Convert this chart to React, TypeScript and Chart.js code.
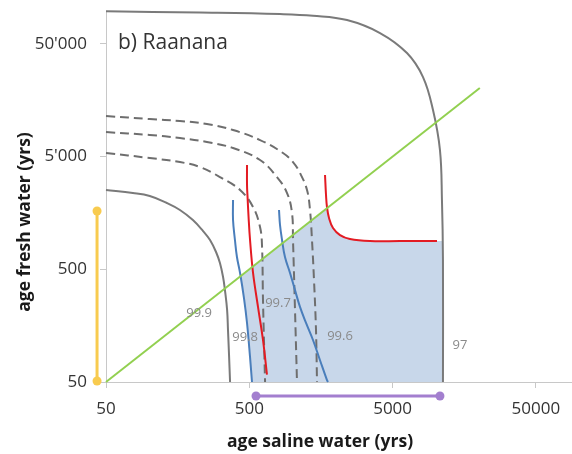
import React, { useEffect, useRef } from "react";
import { Chart, registerables } from "chart.js";

Chart.register(...registerables);

// Axis ticks (log–log, years)
const xTickValues = [50, 500, 5000, 50000];
const xTickLabels = ["50", "500", "5000", "50000"];
const yTickValues = [50, 500, 5000, 50000];
const yTickLabels = ["50", "500", "5'000", "50'000"];

// Outer solid contour (97)
const c97X = [50, 226, 819, 1391, 2404, 4084, 6300, 8150, 9570, 10700, 11050, 11230, 11230];
const c97Y = [97300, 94950, 92000, 88950, 81450, 62500, 41500, 25400, 12950, 5725, 2060, 605, 50];

// Inner solid contour (99.9)
const c999X = [50, 77, 101, 133, 164, 202, 238, 266, 293, 312, 328, 338, 350, 355, 361, 367];
const c999Y = [2530, 2377, 2235, 1937, 1680, 1368, 1093, 910, 712, 568, 427, 327, 218, 145, 87, 50];

// Dashed contours
const dashAX = [50, 101, 164, 253, 385, 594, 859, 1009, 1129, 1264, 1326, 1369, 1414, 1460, 1484];
const dashAY = [11460, 10780, 10350, 9730, 8610, 7015, 5385, 4475, 3575, 2530, 1680, 910, 402, 145, 50];
const dashBX = [50, 101, 164, 253, 385, 594, 780, 917, 993, 1009, 1042, 1076];
const dashBY = [8260, 7775, 7310, 6740, 5960, 4665, 3295, 2377, 1580, 910, 218, 50];
const dashCX = [50, 101, 164, 226, 312, 431, 531, 594, 613, 623, 644];
const dashCY = [5385, 4860, 4475, 4045, 3295, 2530, 1786, 1186, 822, 267, 50];

// Blue curves
const blue1X = [385, 385, 397, 410, 431, 459, 482, 506, 522];
const blue1Y = [2060, 1368, 910, 643, 464, 278, 167, 83, 50];
const blue2X = [806, 819, 846, 887, 962, 1042, 1129, 1244, 1391, 1557, 1742, 1771];
const blue2Y = [1680, 1236, 910, 643, 464, 327, 232, 167, 118, 78, 52, 50];

// Red curves
const red1X = [482, 482, 486, 494, 506, 531, 575, 623, 664];
const red1Y = [4210, 2800, 2208, 1465, 910, 464, 232, 118, 58];
const red2X = [1688, 1715, 1742, 1800, 1919, 2148, 2521, 3478, 5630, 10200];
const red2Y = [3435, 2280, 1786, 1426, 1162, 1007, 929, 891, 891, 891];

// 1:1 line
const equalX = [50, 20300];
const equalY = [50, 20300];

// Shaded feasible region
const shadeX = [522, 506, 482, 459, 434, 1748, 1800, 1919, 2148, 2521, 3478, 10200, 11230, 11230];
const shadeY = [50, 83, 167, 278, 434, 1748, 1426, 1162, 1007, 929, 891, 891, 891, 50];

// Ranges shown beside the axes
const freshRangeX = [43.3, 43.3];
const freshRangeY = [51, 1645];
const salineRangeX = [557, 10700];
const salineRangeY = [37.6, 37.6];

// Contour labels
const contourLabels = ["99.9", "99.8", "99.7", "99.6", "97"];
const contourLabelX = [223, 467, 793, 2148, 14760];
const contourLabelY = [205, 125, 251, 128, 106];

const FONT = "'Open Sans', 'DejaVu Sans', sans-serif";
const YELLOW = "#f8cb4f";
const PURPLE = "#a37fcf";

const pts = (xs: number[], ys: number[]) => xs.map((x, i) => ({ x, y: ys[i] }));

const shadePlugin = {
  id: "shadeRegion",
  beforeDatasetsDraw(chart: any) {
    const { ctx, chartArea, scales } = chart;
    ctx.save();
    ctx.beginPath();
    ctx.rect(chartArea.left, chartArea.top, chartArea.right - chartArea.left, chartArea.bottom - chartArea.top);
    ctx.clip();
    ctx.beginPath();
    shadeX.forEach((x, i) => {
      const px = scales.x.getPixelForValue(x);
      const py = scales.y.getPixelForValue(shadeY[i]);
      if (i === 0) ctx.moveTo(px, py);
      else ctx.lineTo(px, py);
    });
    ctx.closePath();
    ctx.fillStyle = "#c8d7ea";
    ctx.fill();
    ctx.restore();
  },
};

const textPlugin = {
  id: "textLabels",
  afterDatasetsDraw(chart: any) {
    const { ctx, chartArea, scales } = chart;
    ctx.save();
    // end dots of the two age ranges (they sit outside the plot area)
    const dot = (x: number, y: number, color: string) => {
      ctx.beginPath();
      ctx.arc(scales.x.getPixelForValue(x), scales.y.getPixelForValue(y), 4.5, 0, Math.PI * 2);
      ctx.fillStyle = color;
      ctx.fill();
    };
    freshRangeX.forEach((x, i) => dot(x, freshRangeY[i], YELLOW));
    salineRangeX.forEach((x, i) => dot(x, salineRangeY[i], PURPLE));

    // contour labels
    ctx.font = `13px ${FONT}`;
    ctx.fillStyle = "#8a8a8a";
    ctx.textAlign = "center";
    ctx.textBaseline = "middle";
    contourLabels.forEach((t, i) => {
      ctx.fillText(
        t,
        scales.x.getPixelForValue(contourLabelX[i]),
        scales.y.getPixelForValue(contourLabelY[i])
      );
    });
    // panel title
    ctx.font = `21px ${FONT}`;
    ctx.fillStyle = "#333333";
    ctx.textAlign = "left";
    ctx.fillText("b) Raanana", chartArea.left + 12, 43);
    // axis titles
    ctx.font = `bold 17.5px ${FONT}`;
    ctx.fillStyle = "#1a1a1a";
    ctx.textAlign = "center";
    ctx.fillText("age saline water (yrs)", 320, 442);
    ctx.translate(25, 222);
    ctx.rotate(-Math.PI / 2);
    ctx.fillText("age fresh water (yrs)", 0, 0);
    ctx.restore();
  },
};

export default function App() {
  const canvasRef = useRef<HTMLCanvasElement | null>(null);

  useEffect(() => {
    document.body.style.margin = "0";
    const canvas = canvasRef.current;
    if (!canvas) return;

    const line = (data: any[], color: string, extra: any = {}) => ({
      data,
      borderColor: color,
      backgroundColor: color,
      borderWidth: 2,
      pointRadius: 0,
      tension: 0.4,
      fill: false,
      clip: false,
      ...extra,
    });

    const chart = new Chart(canvas, {
      type: "line",
      data: {
        datasets: [
          line(pts(equalX, equalY), "#92d050", { tension: 0 }),
          line(pts(freshRangeX, freshRangeY), YELLOW, { tension: 0, borderWidth: 3 }),
          line(pts(salineRangeX, salineRangeY), PURPLE, { tension: 0, borderWidth: 3 }),
          line(pts(red1X, red1Y), "#e31b23"),
          line(pts(red2X, red2Y), "#e31b23"),
          line(pts(blue1X, blue1Y), "#4a7ebb"),
          line(pts(blue2X, blue2Y), "#4a7ebb"),
          line(pts(dashAX, dashAY), "#6e6e6e", { borderDash: [9, 5] }),
          line(pts(dashBX, dashBY), "#6e6e6e", { borderDash: [9, 5] }),
          line(pts(dashCX, dashCY), "#6e6e6e", { borderDash: [9, 5] }),
          line(pts(c999X, c999Y), "#7a7a7a"),
          line(pts(c97X, c97Y), "#7a7a7a"),
        ],
      },
      options: {
        animation: false,
        responsive: false,
        devicePixelRatio: 1,
        parsing: false as any,
        layout: { padding: { top: 11, right: 0, bottom: 0, left: 0 } },
        plugins: {
          legend: { display: false },
          tooltip: { enabled: false },
        },
        scales: {
          x: {
            type: "logarithmic",
            position: "bottom",
            min: 50,
            max: 89300,
            afterBuildTicks: (axis: any) => {
              axis.ticks = xTickValues.map((v) => ({ value: v }));
            },
            afterFit: (scale: any) => {
              scale.height = 72;
              scale.paddingLeft = 0;
              scale.paddingRight = 0;
            },
            ticks: {
              autoSkip: false,
              maxRotation: 0,
              padding: 11,
              color: "#333333",
              font: { family: FONT, size: 17 },
              callback: (_v: any, i: number) => xTickLabels[i],
            },
            grid: {
              drawOnChartArea: false,
              drawTicks: true,
              tickLength: 6,
              color: "#c8c8c8",
            },
            border: { color: "#c8c8c8", width: 1 },
          },
          y: {
            type: "logarithmic",
            min: 50,
            max: 98000,
            afterBuildTicks: (axis: any) => {
              axis.ticks = yTickValues.map((v) => ({ value: v }));
            },
            afterFit: (scale: any) => {
              scale.width = 106;
              scale.paddingTop = 0;
              scale.paddingBottom = 0;
            },
            ticks: {
              autoSkip: false,
              padding: 13,
              color: "#333333",
              font: { family: FONT, size: 17 },
              callback: (_v: any, i: number) => yTickLabels[i],
            },
            grid: {
              drawOnChartArea: false,
              drawTicks: true,
              tickLength: 6,
              color: "#c8c8c8",
            },
            border: { color: "#c8c8c8", width: 1 },
          },
        },
      },
      plugins: [shadePlugin, textPlugin],
    });

    return () => chart.destroy();
  }, []);

  return (
    <div style={{ width: 572, height: 454, background: "#ffffff" }}>
      <canvas ref={canvasRef} width={572} height={454} />
    </div>
  );
}
